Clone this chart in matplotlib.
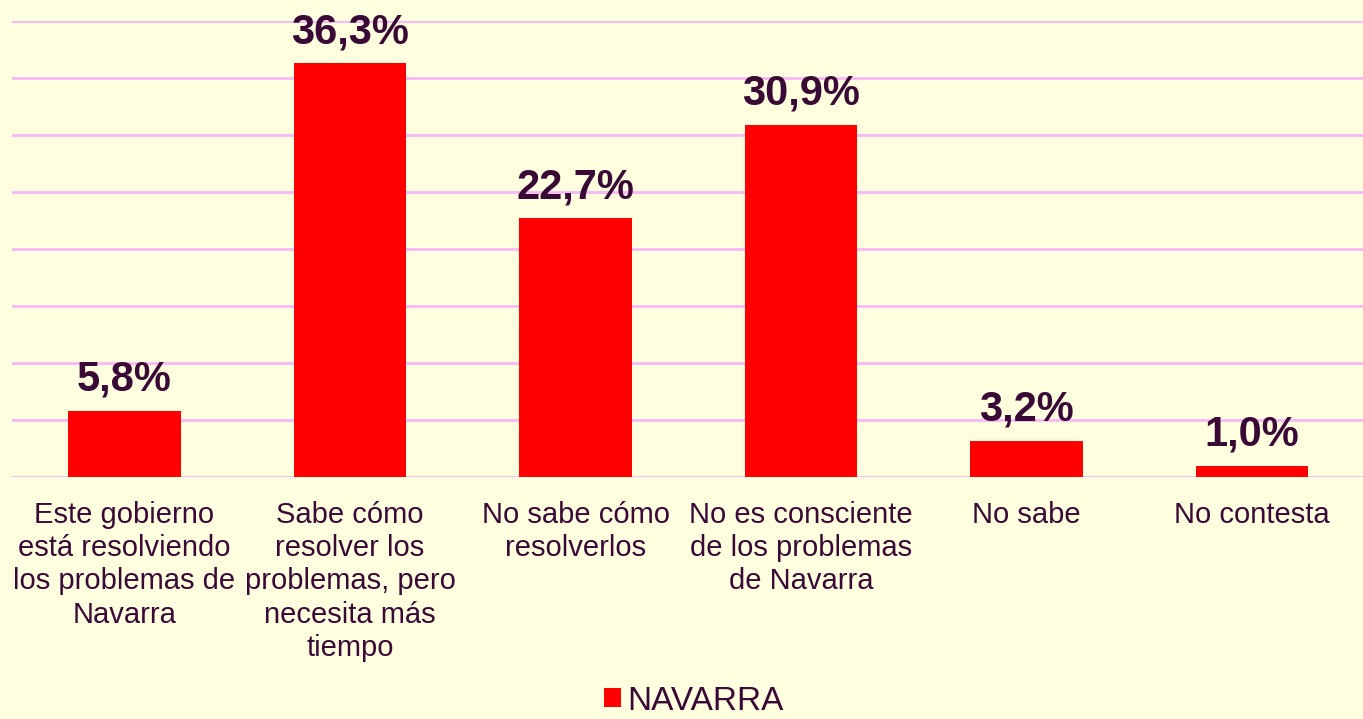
import matplotlib
matplotlib.use("Agg")
import matplotlib.pyplot as plt
from matplotlib.patches import Patch

categories = [
    "Este gobierno\nestá resolviendo\nlos problemas de\nNavarra",
    "Sabe cómo\nresolver los\nproblemas, pero\nnecesita más\ntiempo",
    "No sabe cómo\nresolverlos",
    "No es consciente\nde los problemas\nde Navarra",
    "No sabe",
    "No contesta",
]
values = [5.8, 36.3, 22.7, 30.9, 3.2, 1.0]
value_labels = ["5,8%", "36,3%", "22,7%", "30,9%", "3,2%", "1,0%"]
series_name = "NAVARRA"

BG = "#FFFFE0"
GRID = "#F7B8F7"
TXT = "#3A0A36"
RED = "#FF0000"

plt.rcParams['font.family'] = ['Liberation Sans', 'DejaVu Sans']

W, H = 1363, 719
fig = plt.figure(figsize=(W / 100, H / 100), dpi=100, facecolor=BG)
left = 11.75 / W
right = 1364.75 / W
bottom = (H - 477) / H
top = (H - 21) / H
ax = fig.add_axes([left, bottom, right - left, top - bottom], facecolor=BG)

x = list(range(len(categories)))
bars = ax.bar(x, values, width=0.5, color=RED, zorder=3)

ax.set_xlim(-0.5, len(categories) - 0.5)
ax.set_ylim(0, 40)
ax.set_yticks(range(0, 41, 5))
ax.yaxis.grid(True, color=GRID, linewidth=2, zorder=0)
ax.tick_params(axis='y', left=False, labelleft=False)
ax.tick_params(axis='x', bottom=False, pad=13.5)
ax.set_xticks(x)
ax.set_xticklabels(categories, fontsize=21, color=TXT, linespacing=1.245, va='top')
for s in ax.spines.values():
    s.set_visible(False)

for xi, v, lab in zip(x, values, value_labels):
    ax.annotate(lab, (xi, v), xytext=(0, 14.5), textcoords='offset points',
                ha='center', va='baseline', fontsize=30, fontweight='bold', color=TXT)

leg = fig.legend(handles=[Patch(facecolor=RED, edgecolor='none', label=series_name)],
                 loc='center', bbox_to_anchor=(694 / W, (H - 701) / H), frameon=False,
                 fontsize=24, handlelength=0.5, handleheight=0.5, handletextpad=0.18,
                 borderpad=0)
for t in leg.get_texts():
    t.set_color(TXT)

fig.savefig("out.png", dpi=100, facecolor=BG)
